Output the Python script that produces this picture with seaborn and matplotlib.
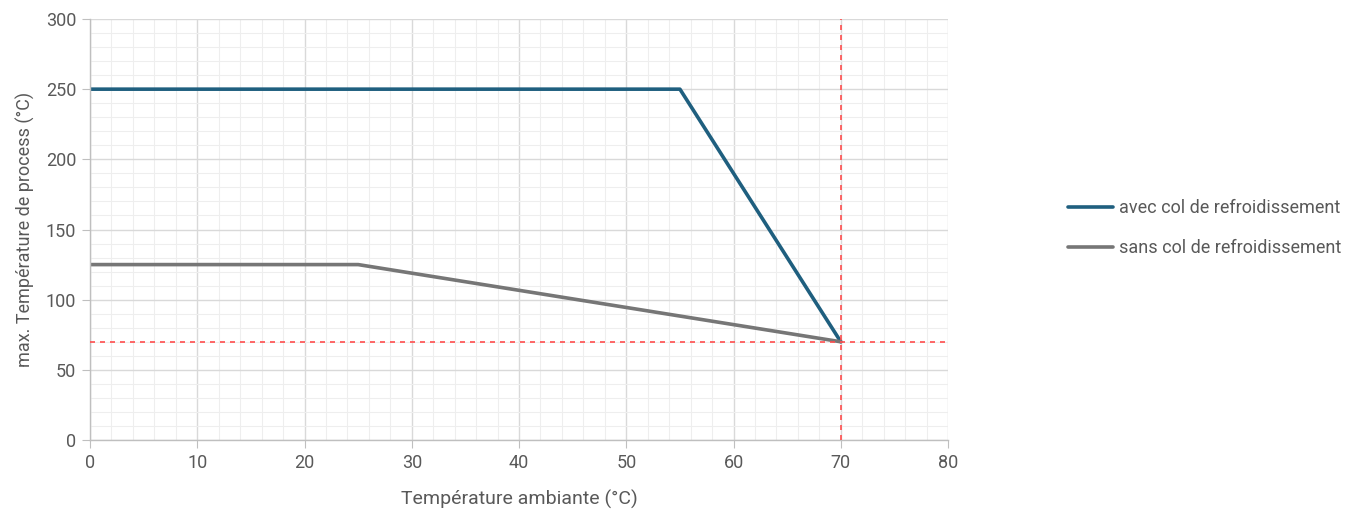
import matplotlib.pyplot as plt
from matplotlib.ticker import MultipleLocator
import seaborn as sns
import pandas as pd

# valeurs
temp_avec = [0, 55, 70]
process_avec = [250, 250, 70]
temp_sans = [0, 25, 70]
process_sans = [125, 125, 70]
series_names = ['avec col de refroidissement', 'sans col de refroidissement']
limite_x = 70
limite_y = 70

df = pd.concat([
    pd.DataFrame({'amb': temp_avec, 'proc': process_avec, 'serie': series_names[0]}),
    pd.DataFrame({'amb': temp_sans, 'proc': process_sans, 'serie': series_names[1]}),
])

sns.set_style('white')
plt.rcParams['font.family'] = ['Roboto', 'DejaVu Sans']

fig = plt.figure(figsize=(13.6, 5.12), dpi=100)
ax = fig.add_axes([0.0662, 0.1406, 0.6309, 0.8223])

sns.lineplot(data=df, x='amb', y='proc', hue='serie', sort=False,
             palette=['#1f5f7f', '#767676'], linewidth=2.6, ax=ax)

ax.axvline(limite_x, color='#ff4d4d', ls=(0, (3, 3)), lw=1.2, zorder=3)
ax.axhline(limite_y, color='#ff4d4d', ls=(0, (3, 3)), lw=1.2, zorder=3)

ax.set_xlim(0, 80)
ax.set_ylim(0, 300)
ax.xaxis.set_major_locator(MultipleLocator(10))
ax.xaxis.set_minor_locator(MultipleLocator(2))
ax.yaxis.set_major_locator(MultipleLocator(50))
ax.yaxis.set_minor_locator(MultipleLocator(10))
ax.grid(which='major', color='#d9d9d9', lw=1.0)
ax.grid(which='minor', color='#eeeeee', lw=0.8)
ax.set_axisbelow(True)

for side in ['top', 'right']:
    ax.spines[side].set_visible(False)
for side in ['left', 'bottom']:
    ax.spines[side].set_color('#bfbfbf')
    ax.spines[side].set_linewidth(1.0)

ax.tick_params(which='major', length=6, color='#bfbfbf', labelcolor='#595959',
               labelsize=13, left=True, bottom=True, pad=4)
ax.tick_params(which='minor', length=0)

ax.set_xlabel('Température ambiante (°C)', fontsize=14, color='#595959', labelpad=13)
ax.set_ylabel('max. Température de process (°C)', fontsize=13, color='#595959', labelpad=8)

ax.legend(loc='center left', bbox_to_anchor=(1.14, 0.503), frameon=False,
          borderaxespad=0, borderpad=0,
          fontsize=13, labelcolor='#595959', handlelength=2.5, handletextpad=0.3,
          labelspacing=1.2)

plt.savefig('out.png', dpi=100)
plt.close()
